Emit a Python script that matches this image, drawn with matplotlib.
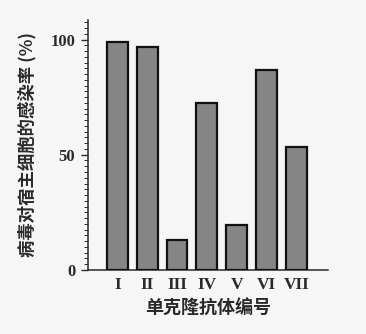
import matplotlib
matplotlib.use("Agg")
import matplotlib.pyplot as plt
from matplotlib.ticker import MultipleLocator

plt.rcParams["font.family"] = ["Noto Sans CJK SC", "DejaVu Sans"]

antibodies = ["I", "II", "III", "IV", "V", "VI", "VII"]
infection_rate = [99, 97, 13, 72.5, 19.5, 87, 53.5]

BAR_COLOR = "#858585"
INK = "#2a2a2a"

fig = plt.figure(figsize=(3.66, 3.34), dpi=100)
fig.patch.set_facecolor("#f6f6f6")
ax = fig.add_axes([0.240, 0.192, 0.656, 0.748])
ax.set_facecolor("#f6f6f6")

x = range(len(antibodies))
ax.bar(x, infection_rate, width=0.7, color=BAR_COLOR,
       edgecolor="#111111", linewidth=1.6, zorder=3)

ax.set_xlim(-0.99, 7.06)
ax.set_ylim(0, 108.5)
ax.set_xticks(list(x))
ax.set_xticklabels(antibodies, family="Liberation Serif", fontweight="bold",
                   fontsize=12.5, color=INK)
ax.tick_params(axis="x", length=0, pad=5)

ax.set_yticks([0, 50, 100])
ax.yaxis.set_minor_locator(MultipleLocator(2.5))
ax.tick_params(axis="y", which="major", length=5, width=1.0, color=INK,
               labelsize=12, labelcolor=INK, pad=4)
ax.tick_params(axis="y", which="minor", length=3, width=0.7, color=INK)
for lab in ax.get_yticklabels():
    lab.set_family("Liberation Serif")
    lab.set_fontweight("bold")

for side in ("top", "right"):
    ax.spines[side].set_visible(False)
for side in ("left", "bottom"):
    ax.spines[side].set_color(INK)
    ax.spines[side].set_linewidth(1.1)

ax.set_xlabel("单克隆抗体编号", fontsize=13, color=INK, fontweight="bold",
              labelpad=4)
ax.set_ylabel("病毒对宿主细胞的感染率 (%)", fontsize=12.5, color=INK,
              fontweight="bold", labelpad=10)

fig.savefig("out.png", dpi=100, facecolor=fig.get_facecolor())
